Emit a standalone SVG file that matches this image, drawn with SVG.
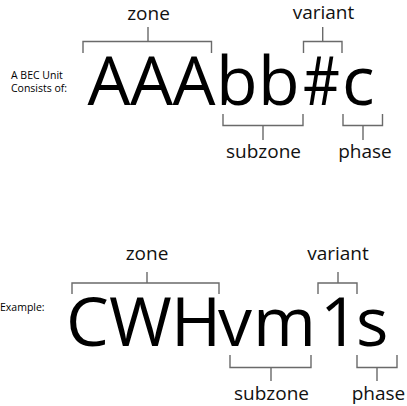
<svg xmlns="http://www.w3.org/2000/svg" width="407" height="406" viewBox="0 0 407 406">
<style>
.big{font-family:"Open Sans","Noto Sans",sans-serif;font-size:68px;fill:#000}
.lbl{font-family:"Open Sans","Noto Sans",sans-serif;font-size:19px;fill:#111;text-anchor:middle}
.sm{font-family:"Open Sans","Noto Sans",sans-serif;font-size:10.5px;fill:#000}
.br{fill:none;stroke:#6a6a6a;stroke-width:1.4}
</style>
<rect width="407" height="406" fill="#fff"/>
<g id="connectors">
<path class="br" d="M83 53V41.5H211.5V53M148 27V41.5"/>
<path class="br" d="M303.5 53V41.5H342V53M322.7 27V41.5"/>
<path class="br" d="M223 114V125.5H303V114M263 125.5V140"/>
<path class="br" d="M343 114V125.5H382.5V114M363 125.5V140"/>
<path class="br" d="M72 294V283H219V294M147 272V283"/>
<path class="br" d="M318 294V283H357V294M338 272V283"/>
<path class="br" d="M230 355V367.5H311V355M271 367.5V381"/>
<path class="br" d="M357 355V367.5H397V355M377 367.5V381"/>
</g>
<g id="top-unit">
<text class="sm" x="11" y="79">A BEC Unit</text>
<text class="sm" x="11" y="92">Consists of:</text>
<text class="big" x="87.5 130 172.5 216 258" y="105">AAAbb</text>
<text class="big" transform="translate(303,105) scale(0.84,1)" x="0" y="0">#</text>
<text class="big" x="342" y="105">c</text>
</g>
<g id="top-zone"><text class="lbl" x="148.5" y="20">zone</text></g>
<g id="top-variant"><text class="lbl" x="323.5" y="19">variant</text></g>
<g id="top-subzone"><text class="lbl" x="263.5" y="158">subzone</text></g>
<g id="top-phase"><text class="lbl" x="365" y="158">phase</text></g>
<g id="example">
<text class="sm" x="0" y="311">Example:</text>
<text class="big" x="66 109 171 218 253 320 356" y="346">CWHvm1s</text>
</g>
<g id="ex-zone"><text class="lbl" x="147" y="260">zone</text></g>
<g id="ex-variant"><text class="lbl" x="338" y="260">variant</text></g>
<g id="ex-subzone"><text class="lbl" x="271.5" y="400">subzone</text></g>
<g id="ex-phase"><text class="lbl" x="378.5" y="400">phase</text></g>
</svg>
